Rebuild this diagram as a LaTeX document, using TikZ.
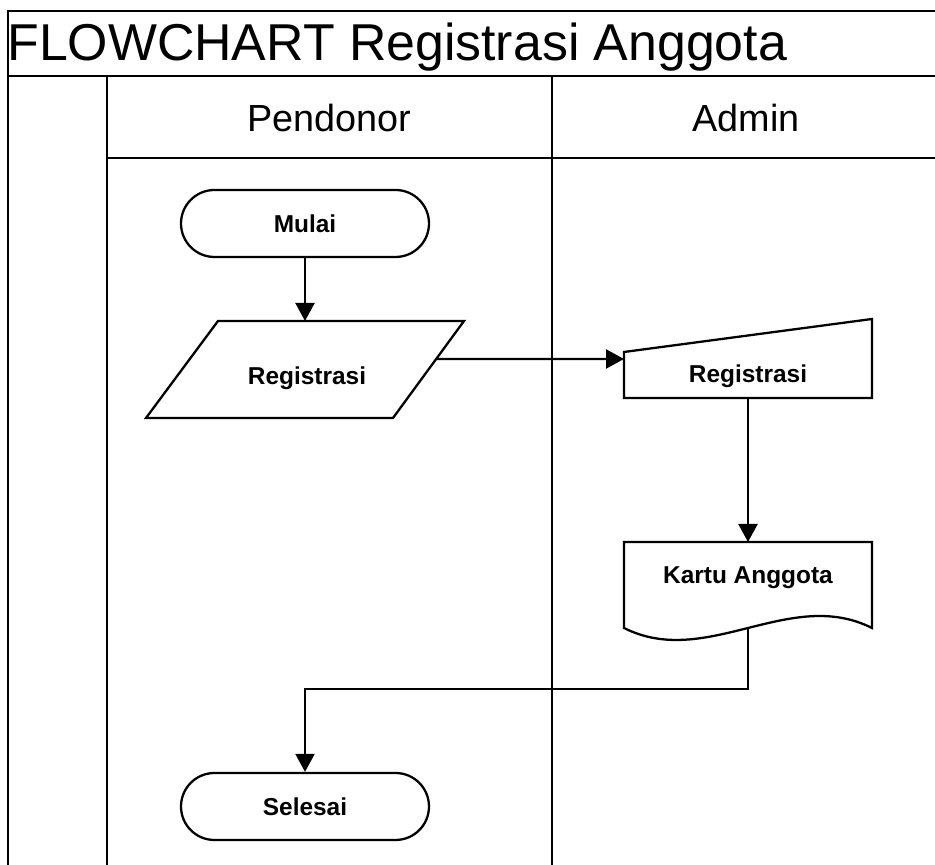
\documentclass[tikz,border=0pt]{standalone}
\usepackage{fontspec}
\setmainfont{Liberation Sans}
\usetikzlibrary{shapes.geometric, arrows.meta, positioning, calc}
\tikzstyle{terminal} = [rectangle, rounded corners=0.67cm, minimum width=4.96cm, minimum height=1.34cm, text centered, draw=black, line width=1.3pt, font=\fontsize{13.9}{16}\selectfont\bfseries]
\tikzstyle{lbl} = [inner sep=0pt, font=\fontsize{13.9}{16}\selectfont\bfseries]
\tikzstyle{outline} = [draw=black, line width=1.3pt, line join=miter]
\tikzstyle{lane} = [line width=1.3pt]
\tikzstyle{head} = [font=\fontsize{21.5}{26}\selectfont]
\tikzstyle{arrow} = [line width=1.3pt, -{Triangle[length=0.36cm, width=0.38cm]}]

\begin{document}
\begin{tikzpicture}
\useasboundingbox (0,0) rectangle (18.7,17.3);

  % swimlanes
  \draw[lane] (18.7,17.08) -- (0.16,17.08) -- (0.16,0);
  \draw[lane] (0.16,15.78) -- (18.7,15.78);
  \draw[lane] (2.14,15.78) -- (2.14,0);
  \draw[lane] (11.04,15.78) -- (11.04,0);
  \draw[lane] (2.14,14.14) -- (18.7,14.14);

  \node[anchor=west, inner sep=0pt, font=\fontsize{29.5}{34}\selectfont] (title) at (0.14,16.36) {FLOWCHART Registrasi Anggota};
  \node[head] (pendonor) at (6.58,14.94) {Pendonor};
  \node[head] (admin) at (14.92,14.94) {Admin};

  \coordinate (first) at (6.1,12.83);
  \node[terminal] (start) at (first) {Mulai};
  \node[terminal] (fin) at ($(first) + (0,-11.66)$) {Selesai};

  % data (parallelogram)
  \coordinate (regc) at ($(first) + (0,-2.92)$);
  \node[lbl] (reg) at ($(regc) + (0.04,-0.18)$) {Registrasi};
  \draw[outline] ($(regc) + (-3.18,-0.97)$) -- ($(regc) + (1.76,-0.97)$) -- ($(regc) + (3.18,0.97)$) -- ($(regc) + (-1.74,0.97)$) -- cycle;

  % manual input
  \node[lbl] (inp) at (14.96,9.78) {Registrasi};
  \draw[outline] ($(inp) + (-2.48,-0.44)$) -- ($(inp) + (2.48,-0.44)$) -- ($(inp) + (2.48,1.14)$) -- ($(inp) + (-2.48,0.48)$) -- cycle;

  % document
  \node[lbl] (card) at (14.96,5.74) {Kartu Anggota};
  \draw[outline] ($(card) + (-2.48,0.72)$) -- ($(card) + (2.48,0.72)$) -- ($(card) + (2.48,-1)$)
    .. controls ($(card) + (0.83,-0.17)$) and ($(card) + (-0.83,-1.83)$) .. ($(card) + (-2.48,-1)$) -- cycle;

  \coordinate (regIn) at ($(regc) + (0,0.97)$);
  \coordinate (regOut) at ($(regc) + (2.62,0.21)$);
  \coordinate (inpIn) at ($(inp) + (-2.48,0.34)$);
  \coordinate (inpOut) at ($(inp) + (0,-0.44)$);
  \coordinate (cardIn) at ($(card) + (0,0.72)$);
  \coordinate (cardOut) at ($(card) + (0,-1)$);

  \draw[arrow] (start) -- (regIn);
  \draw[arrow] (regOut) -- (inpIn);
  \draw[arrow] (inpOut) -- (cardIn);
  \draw[arrow] (cardOut) -- ++(0,-1.22) -| (fin);

\end{tikzpicture}
\end{document}
